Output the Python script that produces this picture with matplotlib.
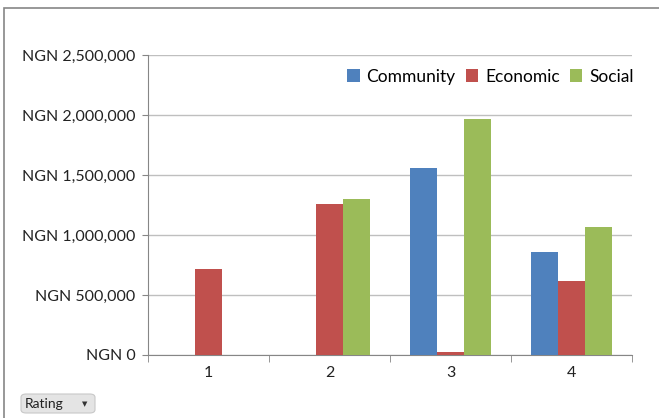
import numpy as np
import matplotlib.pyplot as plt
from matplotlib.patches import FancyBboxPatch, Rectangle
from matplotlib.ticker import FuncFormatter

plt.rcParams["font.family"] = ["Lato", "DejaVu Sans"]

ratings = ["1", "2", "3", "4"]
community = [0, 0, 1558000, 858000]
economic = [717000, 1258000, 25000, 617000]
social = [0, 1302000, 1969000, 1064000]

series = [("Community", community, "#4f81bd"),
          ("Economic", economic, "#c0504d"),
          ("Social", social, "#9bbb59")]

fig = plt.figure(figsize=(6.59, 4.18), dpi=100)
W, H = 659, 418
ax = fig.add_axes([148 / W, 1 - 355 / H, (632 - 148) / W, (355 - 55) / H])

x = np.arange(len(ratings))
bw = 0.223
for i, (name, vals, col) in enumerate(series):
    ax.bar(x + (i - 1) * bw, vals, bw, color=col, label=name, zorder=3)

ax.set_xlim(-0.5, len(ratings) - 0.5)
ax.set_ylim(0, 2500000)
ax.set_yticks(np.arange(0, 2500001, 500000))
ax.yaxis.set_major_formatter(FuncFormatter(lambda v, p: f"NGN {v:,.0f}"))
ax.set_xticks(x)
ax.set_xticklabels(ratings)
ax.set_xticks(np.arange(-0.5, len(ratings), 1), minor=True)
ax.tick_params(axis="x", which="major", length=0, labelsize=11.5, pad=8, colors="#222222")
ax.tick_params(axis="x", which="minor", length=5, color="#868686")
ax.tick_params(axis="y", length=4, color="#868686", labelsize=11.5, colors="#222222", pad=5)
ax.grid(axis="y", color="#bfbfbf", linewidth=1, zorder=0)
for s in ["top", "right"]:
    ax.spines[s].set_visible(False)
for s in ["left", "bottom"]:
    ax.spines[s].set_color("#868686")

ax.legend(loc="upper right", bbox_to_anchor=(1.004, 0.955), ncol=3, frameon=False,
          fontsize=12.5, handlelength=0.7, handleheight=0.7, columnspacing=0.6,
          handletextpad=0.4, borderpad=0, borderaxespad=0)

# outer chart frame
fig.add_artist(Rectangle((4 / W, -0.1), 1.0, 1 - 8 / H + 0.1, transform=fig.transFigure,
                         fill=False, edgecolor="#868686", linewidth=1.2))

# field button
fig.add_artist(FancyBboxPatch((21 / W, 1 - 413 / H), 74 / W, 19 / H,
                              boxstyle="round,pad=0,rounding_size=0.008",
                              transform=fig.transFigure, facecolor="#e4e4e4",
                              edgecolor="#c8c8c8", linewidth=0.8))
fig.text(25 / W, 1 - 404 / H, "Rating", fontsize=10, va="center", color="#222222")
fig.text(85 / W, 1 - 404 / H, "\u25bc", fontsize=5, va="center", ha="center", color="#333333")

fig.savefig("out.png", dpi=100)
